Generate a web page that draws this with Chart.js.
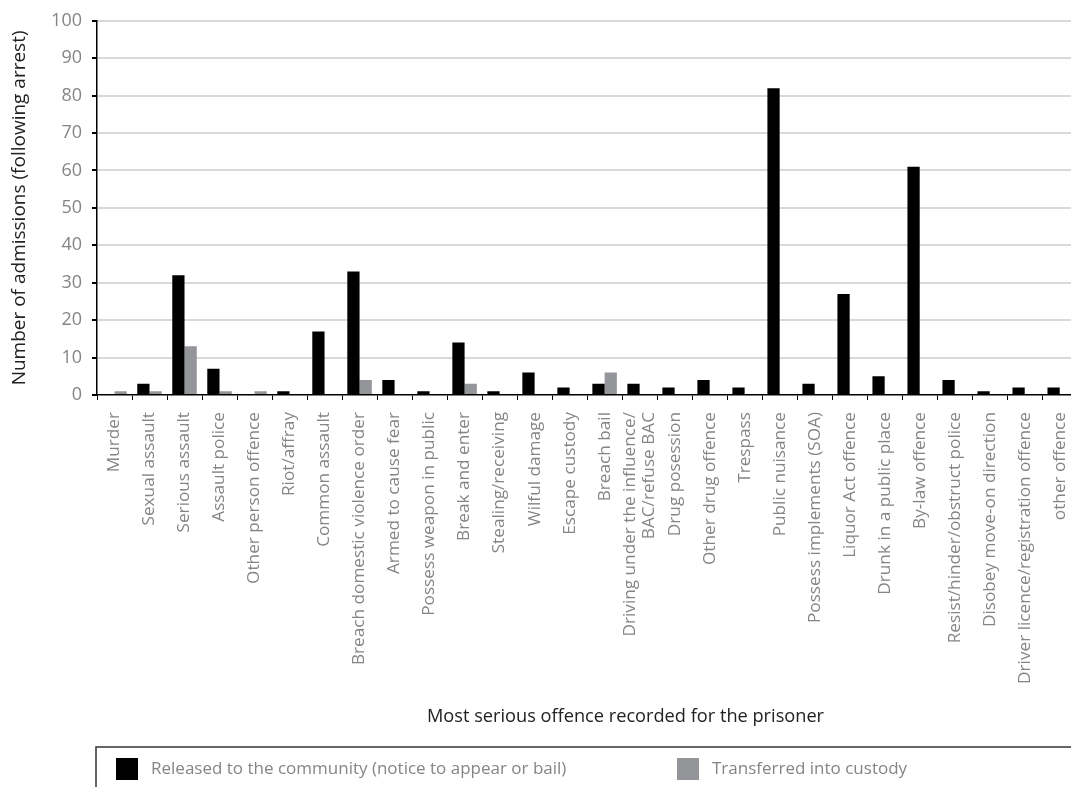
<!DOCTYPE html>
<html>
<head>
<meta charset="utf-8">
<script src="https://cdn.jsdelivr.net/npm/chart.js@4/dist/chart.umd.min.js"></script>
<style>
  html, body { margin: 0; padding: 0; background: #fff; overflow: hidden; }
  #wrap { width: 1090px; height: 787px; }
</style>
</head>
<body>
<div id="wrap"><canvas id="c" width="1090" height="787"></canvas></div>
<script>
// Admissions following arrest, by most serious offence
const categories = [
  'Murder', 'Sexual assault', 'Serious assault', 'Assault police', 'Other person offence',
  'Riot/affray', 'Common assault', 'Breach domestic violence order', 'Armed to cause fear',
  'Possess weapon in public', 'Break and enter', 'Stealing/receiving', 'Wilful damage',
  'Escape custody', 'Breach bail', ['Driving under the influence/', 'BAC/refuse BAC'],
  'Drug posession', 'Other drug offence', 'Trespass', 'Public nuisance',
  'Possess implements (SOA)', 'Liquor Act offence', 'Drunk in a public place', 'By-law offence',
  'Resist/hinder/obstruct police', 'Disobey move-on direction',
  'Driver licence/registration offence', 'other offence'
];
const released = [0, 3, 32, 7, 0, 1, 17, 33, 4, 1, 14, 1, 6, 2, 3, 3, 2, 4, 2, 82, 3, 27, 5, 61, 4, 1, 2, 2];
const transferred = [1, 1, 13, 1, 1, 0, 0, 4, 0, 0, 3, 0, 0, 0, 6, 0, 0, 0, 0, 0, 0, 0, 0, 0, 0, 0, 0, 0];
const seriesNames = ['Released to the community (notice to appear or bail)', 'Transferred into custody'];
const seriesColors = ['#000000', '#939598'];
const xTitle = 'Most serious offence recorded for the prisoner';
const yTitle = 'Number of admissions (following arrest)';

const FONT = "'Open Sans', sans-serif";
const GREY_TEXT = '#858585';

// Wrapped category names: centre the block of lines on the tick
const centerWrappedLabels = {
  id: 'centerWrappedLabels',
  beforeDraw(chart) {
    const scale = chart.scales.x;
    if (!scale || typeof scale.getLabelItems !== 'function') return;
    scale.getLabelItems(chart.chartArea).forEach((item) => {
      if (Array.isArray(item.label) && item.label.length > 1) {
        item.textOffset -= (item.label.length - 1) * item.font.lineHeight / 2;
      }
    });
  }
};

// Axis title below the category names, and the boxed legend underneath
const bottomTexts = {
  id: 'bottomTexts',
  afterDraw(chart) {
    const ctx = chart.ctx;
    ctx.save();
    ctx.font = "18.2px " + FONT;
    ctx.fillStyle = '#222';
    ctx.textBaseline = 'middle';
    ctx.textAlign = 'left';
    ctx.fillText(xTitle, 427, 717);

    const top = 747, left = 96;
    ctx.strokeStyle = '#333';
    ctx.lineWidth = 1.5;
    ctx.beginPath();
    ctx.moveTo(chart.width, top);
    ctx.lineTo(left, top);
    ctx.lineTo(left, chart.height);
    ctx.stroke();
    const itemX = [116, 677];
    ctx.font = "17px " + FONT;
    chart.data.datasets.forEach((ds, i) => {
      ctx.fillStyle = ds.backgroundColor;
      ctx.fillRect(itemX[i], 758, 22, 22);
      ctx.fillStyle = GREY_TEXT;
      ctx.fillText(ds.label, itemX[i] + 35, 769);
    });
    ctx.restore();
  }
};

new Chart(document.getElementById('c'), {
  type: 'bar',
  data: {
    labels: categories,
    datasets: [
      { label: seriesNames[0], data: released, backgroundColor: seriesColors[0] },
      { label: seriesNames[1], data: transferred, backgroundColor: seriesColors[1] }
    ]
  },
  options: {
    responsive: false,
    animation: false,
    devicePixelRatio: 1,
    categoryPercentage: 0.7,
    barPercentage: 1.0,
    layout: { padding: { top: 17, left: 0, right: 12, bottom: 52 } },
    plugins: { legend: { display: false }, tooltip: { enabled: false } },
    scales: {
      x: {
        afterFit(scale) { scale.height = 340; },
        grid: { display: true, drawOnChartArea: false, drawTicks: true, tickLength: 5, tickColor: '#000', offset: true },
        border: { color: '#000', width: 1.5 },
        ticks: {
          color: GREY_TEXT, font: { family: FONT, size: 17.2, lineHeight: 1.05 },
          maxRotation: 90, minRotation: 90, autoSkip: false, padding: 12
        },
        title: { display: false }
      },
      y: {
        min: 0, max: 100,
        afterFit(scale) { scale.width = 97; },
        grid: {
          color: (c) => (c.tick && c.tick.value === 0) ? 'rgba(0,0,0,0)' : '#d9d9d9',
          lineWidth: 2, tickColor: '#000', tickLength: 5
        },
        border: { color: '#000', width: 1.5 },
        ticks: { stepSize: 10, color: GREY_TEXT, font: { family: FONT, size: 18 }, padding: 10 },
        title: {
          display: true, text: yTitle, color: '#222',
          font: { family: FONT, size: 19 }, padding: { top: 8, bottom: 0 }
        }
      }
    }
  },
  plugins: [centerWrappedLabels, bottomTexts]
});
</script>
</body>
</html>
